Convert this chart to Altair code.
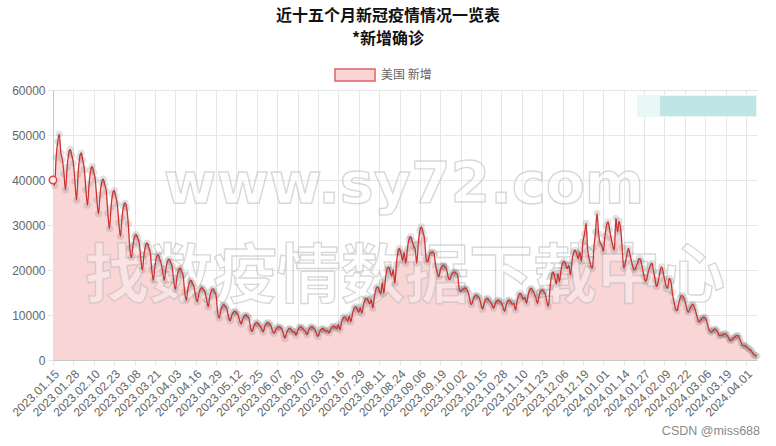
import altair as alt
import pandas as pd

title_text = "近十五个月新冠疫情情况一览表"
subtitle_text = "*新增确诊"
series_name = "美国 新增"
start_date = "2023-01-15"
watermark_en = "www.sy72.com"
watermark_cn = "找数疫情数据下载中心"
credit_text = "CSDN @miss688"

# daily new confirmed cases (one row = one week, Sun..Sat)
cases_part1 = [
    40000, 38800, 45000, 48500, 50200, 46000, 44500,
    41400, 37800, 42800, 45900, 46800, 45500, 43700,
    39700, 35500, 41300, 45000, 46000, 44400, 42300,
    37800, 34400, 39100, 42100, 43000, 41700, 40000,
    35600, 32500, 36700, 39400, 40200, 39000, 37500,
    32600, 29200, 33900, 36900, 37700, 36400, 34700,
    30500, 27500, 31600, 34200, 34900, 33800, 30300,
    24800, 22800, 25600, 27400, 27900, 27100, 26100,
    22400, 20000, 23300, 25400, 26000, 25100, 23900,
    20000, 17700, 20800, 22800, 23400, 22500, 21400,
    19600, 17700, 20300, 21900, 22400, 21700, 20800,
    17600, 15700, 18300, 19900, 20400, 19700, 18800,
    15100, 13300, 15700, 17300, 17700, 17000, 16200,
]
cases_part2 = [
    14200, 12900, 14700, 15800, 16100, 15600, 15000,
    13400, 11800, 14000, 15400, 15800, 15200, 14400,
    10500, 9300, 11000, 12000, 12300, 11900, 11300,
    9500, 8700, 9900, 10600, 10800, 10500, 10100,
    8800, 8000, 9100, 9800, 10000, 9700, 9300,
    7100, 6300, 7400, 8100, 8300, 8000, 7600,
    7000, 6200, 7400, 8100, 8300, 8000, 7600,
    6500, 5900, 6700, 7200, 7400, 7200, 6900,
    5700, 4800, 6000, 6800, 7000, 6700, 6200,
    6300, 5500, 6500, 7200, 7400, 7100, 6700,
    6300, 5600, 6600, 7200, 7400, 7100, 6800,
    5900, 5200, 6200, 6800, 7000, 6700, 6400,
    6600, 6000, 6800, 7400, 7500, 7300, 7000,
]
cases_part3 = [
    7900, 6700, 8300, 9300, 9600, 9200, 8600,
    9800, 8500, 10300, 11500, 11800, 11300, 10600,
    11700, 10400, 12200, 13400, 13700, 13200, 12500,
    13400, 11500, 14100, 15800, 16300, 15600, 14600,
    17200, 14800, 18000, 20100, 20700, 19800, 18600,
    20100, 17000, 21300, 24000, 24800, 23600, 22100,
    23900, 21500, 24700, 26800, 27400, 26500, 25300,
    24700, 21500, 26000, 28800, 29600, 28400, 26800,
    22500, 21800, 23200, 23900, 24000, 23700, 21000,
    19500, 18500, 19900, 20800, 21100, 20700, 20200,
    18500, 17800, 18800, 19400, 19600, 19300, 19000,
    16000, 15200, 15600, 15900, 16000, 15600, 14800,
    13100, 12300, 13500, 14200, 14400, 14100, 13700,
]
cases_part4 = [
    12300, 11300, 12600, 13500, 13700, 13300, 12900,
    12200, 11500, 12500, 13100, 13300, 13000, 12700,
    11800, 10800, 12200, 13100, 13300, 12900, 12400,
    12600, 11100, 13100, 14400, 14800, 14200, 13500,
    13900, 12600, 14400, 15600, 15900, 15400, 14700,
    13800, 12600, 14300, 15300, 15600, 15200, 14600,
    13000, 11900, 16100, 18800, 19600, 18400, 16900,
    19200, 17400, 19900, 21500, 21900, 21200, 20300,
    21100, 18900, 21900, 23900, 24400, 23600, 22500,
    24000, 21900, 26300, 28000, 30400, 24500, 22500,
    21000, 20400, 25000, 28500, 32600, 28000, 26000,
    25500, 24100, 27500, 29800, 30700, 29000, 27000,
    25500, 24400, 31500, 28500, 30800, 29300, 25000,
]
cases_part5 = [
    20400, 21500, 23500, 24800, 23500, 21800, 20500,
    20000, 20800, 21800, 22600, 22000, 20300, 18500,
    17400, 18500, 20000, 21000, 21500, 19800, 17800,
    16300, 17500, 19500, 20700, 19800, 18000, 16500,
    15900, 18150, 17500, 15000, 13000, 11500, 11000,
    12500, 13800, 14300, 14000, 13200, 11800, 10600,
    11200, 12000, 12400, 11800, 10700, 9300, 8400,
    8800, 9300, 9500, 9400, 8600, 7200, 6400,
    6200, 6600, 6900, 6700, 6200, 5400, 5500,
    5600, 5800, 5800, 5500, 4800, 4300, 4500,
    4900, 5200, 5400, 5400, 4700, 3800, 3200,
    3200, 3100, 2700, 2400, 2200, 1700, 1200,
    1000, 900,
]

tick_labels = [
    "2023.01.15", "2023.01.28", "2023.02.10", "2023.02.23", "2023.03.08",
    "2023.03.21", "2023.04.03", "2023.04.16", "2023.04.29", "2023.05.12",
    "2023.05.25", "2023.06.07", "2023.06.20", "2023.07.03", "2023.07.16",
    "2023.07.29", "2023.08.11", "2023.08.24", "2023.09.06", "2023.09.19",
    "2023.10.02", "2023.10.15", "2023.10.28", "2023.11.10", "2023.11.23",
    "2023.12.06", "2023.12.19", "2024.01.01", "2024.01.14", "2024.01.27",
    "2024.02.09", "2024.02.22", "2024.03.06", "2024.03.19", "2024.04.01",
]
y_ticks = [0, 10000, 20000, 30000, 40000, 50000, 60000]

values = cases_part1 + cases_part2 + cases_part3 + cases_part4 + cases_part5
dates = pd.date_range(start_date, periods=len(values), freq="D")
df = pd.DataFrame({
    "date": dates.strftime("%Y-%m-%d"),
    "cases": values,
    "series": series_name,
})


def to_ms(s):
    return int(pd.Timestamp(s.replace(".", "-")).value // 10**6)


tick_ms = [to_ms(t) for t in tick_labels]
x_domain = [to_ms(df["date"].iloc[0]), to_ms(df["date"].iloc[-1])]

LABEL_FONT = "Liberation Sans"
CJK = "Noto Sans CJK SC"
GRID = "#e6e6e6"

x_enc = alt.X(
    "date:T",
    scale=alt.Scale(type="utc", domain=x_domain, nice=False),
    axis=alt.Axis(
        values=tick_ms,
        tickCount=60,
        labelExpr="utcFormat(datum.value, '%Y.%m.%d')",
        labelAngle=-45,
        labelFont=LABEL_FONT,
        labelFontSize=12,
        labelColor="#666666",
        labelOverlap=False,
        labelPadding=3,
        grid=True,
        gridColor=GRID,
        tickColor=GRID,
        tickSize=5,
        domainColor="#c8c8c8",
        title=None,
    ),
)
y_enc = alt.Y(
    "cases:Q",
    scale=alt.Scale(domain=[0, 60000], nice=False),
    axis=alt.Axis(
        values=y_ticks,
        format="d",
        labelFont=LABEL_FONT,
        labelFontSize=12,
        labelColor="#666666",
        labelPadding=2,
        grid=True,
        gridColor=GRID,
        tickColor=GRID,
        tickSize=6,
        domainColor="#c8c8c8",
        title=None,
    ),
)

base = alt.Chart(df)

area = base.mark_area(opacity=1, interpolate="monotone").encode(
    x=x_enc,
    y=y_enc,
    color=alt.Color(
        "series:N",
        scale=alt.Scale(domain=[series_name], range=["#f9d5d6"]),
        legend=alt.Legend(
            title=None,
            orient="none",
            legendX=281,
            legendY=-36,
            symbolType="M-1,-0.3L1,-0.3L1,0.3L-1,0.3Z",
            symbolSize=1600,
            symbolStrokeColor="#e06066",
            symbolStrokeWidth=1.5,
            symbolOpacity=1,
            labelFont=CJK,
            labelFontSize=12,
            labelColor="#666666",
            labelOffset=5,
        ),
    ),
)

wm_en = alt.Chart(pd.DataFrame({"t": [watermark_en]})).mark_text(
    font="DejaVu Sans", fontSize=57, fontWeight="bold", align="center",
    baseline="alphabetic", fill="white", fillOpacity=0.35,
    stroke="#b8b8b8", strokeWidth=1.4, strokeOpacity=0.55,
).encode(text="t:N", x=alt.value(351), y=alt.value(113))

wm_cn = alt.Chart(pd.DataFrame({"t": [watermark_cn]})).mark_text(
    font=CJK, fontSize=64, fontWeight="bold", align="center",
    baseline="middle", fill="white", fillOpacity=0.35,
    stroke="#b8b8b8", strokeWidth=1.4, strokeOpacity=0.55,
).encode(text="t:N", x=alt.value(352), y=alt.value(188))

points = base.mark_point(
    filled=True, size=50, color="#6f6f6f", opacity=0.2,
).encode(x="date:T", y="cases:Q")

line = base.mark_line(
    color="#cc3333", strokeWidth=1.3, interpolate="monotone"
).encode(x="date:T", y="cases:Q")

first_pt = alt.Chart(df.iloc[[0]]).mark_point(
    filled=False, size=55, stroke="#e0474c", strokeWidth=1.5,
    fill="#fde8ea", fillOpacity=1, opacity=1,
).encode(x="date:T", y="cases:Q")

blur_light = alt.Chart(pd.DataFrame({"k": [1]})).mark_rect(
    color="#eaf7f7"
).encode(x=alt.value(584), x2=alt.value(704), y=alt.value(5), y2=alt.value(27))
blur_dark = alt.Chart(pd.DataFrame({"k": [1]})).mark_rect(
    color="#bfe5e6"
).encode(x=alt.value(607), x2=alt.value(703), y=alt.value(6), y2=alt.value(26))

credit = alt.Chart(pd.DataFrame({"t": [credit_text]})).mark_text(
    font=LABEL_FONT, fontSize=12.5, align="right", baseline="middle",
    color="#8a8a8a",
).encode(text="t:N", x=alt.value(707), y=alt.value(341))

chart = alt.layer(
    area, wm_en, wm_cn, blur_light, blur_dark, points, line, first_pt, credit
).properties(
    width=704,
    height=270,
    padding={"left": 53, "top": 90, "right": 19, "bottom": 86},
    autosize=alt.AutoSizeParams(type="none"),
    title=alt.Title(
        text=title_text,
        subtitle=subtitle_text,
        anchor="middle",
        dx=-17,
        font=CJK,
        fontSize=16,
        fontWeight="bold",
        color="#111111",
        subtitleFont=CJK,
        subtitleFontSize=16,
        subtitleFontWeight="bold",
        subtitleColor="#111111",
        subtitlePadding=7,
        offset=7,
    ),
).configure_view(strokeWidth=0)

chart.save("out.html", embed_options={"renderer": "svg", "actions": False})
